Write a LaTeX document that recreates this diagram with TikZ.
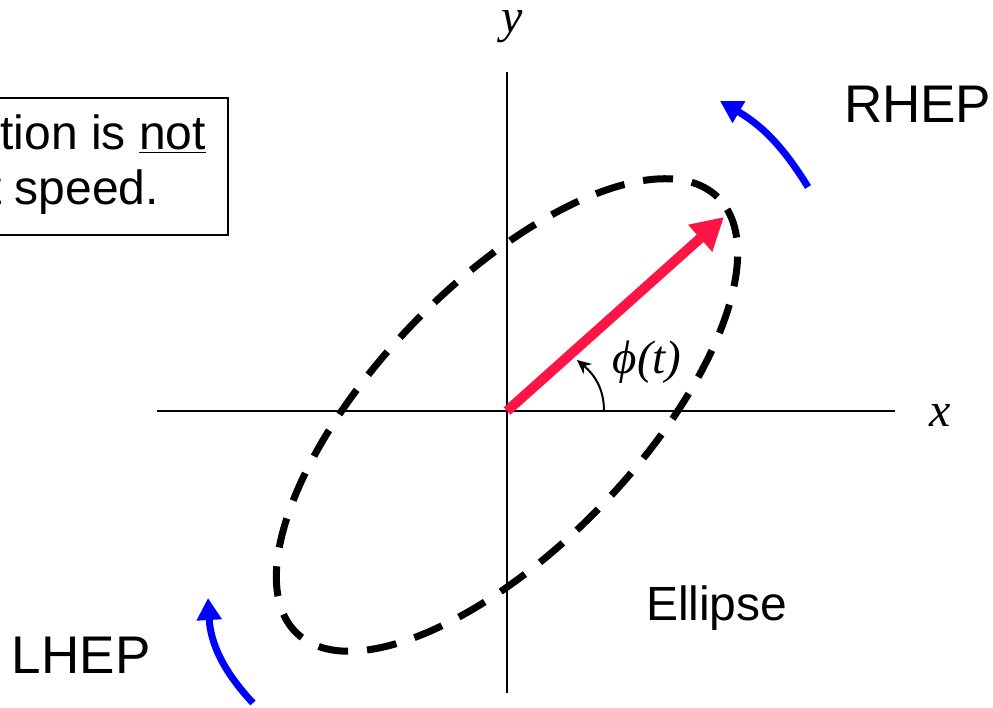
\documentclass[tikz,border=0pt]{standalone}
\usepackage{fontspec}
\setsansfont{Liberation Sans}
\newfontfamily\timesfont{Liberation Serif}
\usetikzlibrary{arrows.meta}
\definecolor{phasorred}{RGB}{255,20,70}

\begin{document}
\begin{tikzpicture}[x=1pt, y=1pt, every node/.style={inner sep=0pt, outer sep=0pt}]
\tikzset{
  axis/.style={line width=2pt, black},
  ellipsepath/.style={line width=7pt, dash pattern=on 30pt off 19pt},
  phasor/.style={line width=10pt, phasorred, -{Triangle[length=32pt, width=34pt]}},
  sense/.style={line width=7pt, blue, -{Triangle[length=22pt, width=24pt]}},
  anglearrow/.style={line width=2pt, -{Stealth[length=14pt, width=13pt]}},
  sanslabel/.style={font=\sffamily\fontsize{53}{62}\selectfont},
  notetext/.style={font=\sffamily\fontsize{48}{56}\selectfont},
  mathlabel/.style={font=\timesfont\itshape\fontsize{48}{56}\selectfont},
  notebox/.style={line width=1.5pt}
}
\useasboundingbox (0,0) rectangle (993,707);

% axes
\coordinate (origin) at (507,296);
\coordinate (xstart) at (157,296);
\coordinate (xend) at (895,296);
\coordinate (ystart) at (507,14);
\coordinate (yend) at (507,635);
\draw[axis] (xstart) -- (xend);
\draw[axis] (ystart) -- (yend);
\node[mathlabel] (xlabel) at (940,292) {x};
\node[mathlabel] (ylabel) at (512,680) {y};

% polarization ellipse
\coordinate (ecenter) at (507,292);
\draw[ellipsepath, rotate around={46:(ecenter)}] (ecenter) ellipse [x radius=303, y radius=131];
\node[sanslabel, font=\sffamily\fontsize{48}{56}\selectfont, anchor=base west] (ellipselabel) at (646,87) {Ellipse};

% field vector and its angle
\coordinate (tip) at (724,490);
\draw[phasor] (origin) -- (tip);
\coordinate (astart) at (604,296);
\coordinate (aend) at (577,347);
\draw[anglearrow] (astart) to[out=90, in=-40] (aend);
\node[mathlabel, font=\timesfont\itshape\fontsize{47}{54}\selectfont] (philabel) at (647,345) {ϕ(t)};

% sense of rotation
\coordinate (rtail) at (808,520);
\coordinate (rtip) at (720,606);
\draw[sense] (rtail) to[bend right=14] (rtip);
\node[sanslabel, anchor=base west] (rhep) at (844,584) {RHEP};
\coordinate (ltail) at (253,4);
\coordinate (ltip) at (208,109);
\draw[sense] (ltail) to[bend left=20] (ltip);
\node[sanslabel, anchor=base west] (lhep) at (12,34) {LHEP};

% note
\draw[notebox] (-5,609) rectangle (228,472);
\node[notetext, anchor=base east] (noteone) at (206,557) {tion is \underline{not}};
\node[notetext, anchor=base east] (notetwo) at (159,502) {t speed.};
\end{tikzpicture}
\end{document}
